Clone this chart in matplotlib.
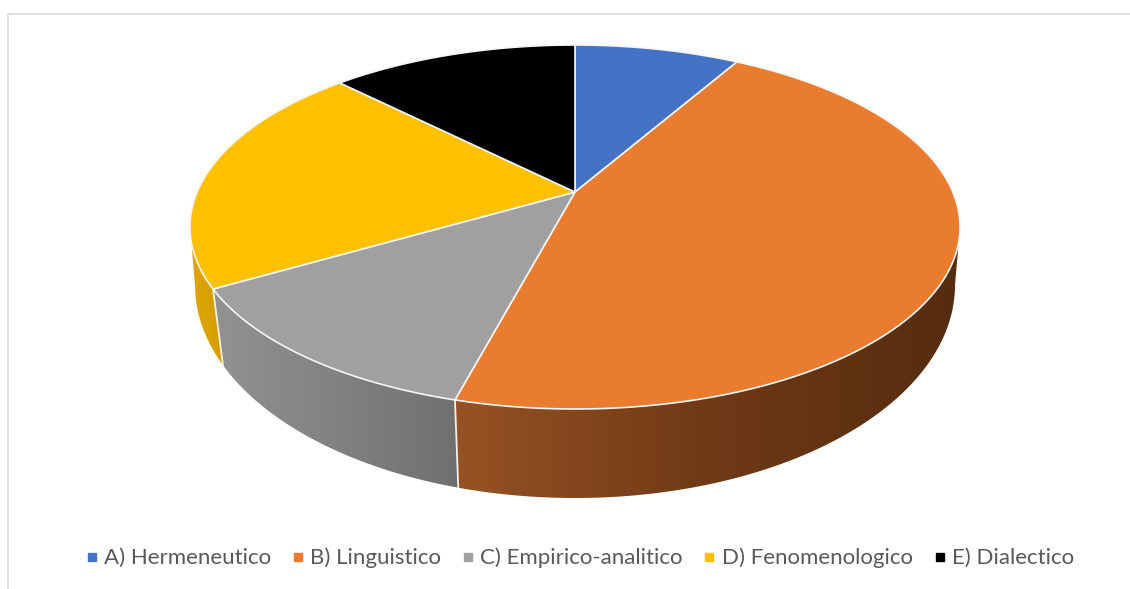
import numpy as np
import matplotlib
matplotlib.use("Agg")
import matplotlib.pyplot as plt
from matplotlib.patches import Polygon
from matplotlib.lines import Line2D

# Chart data
categories = ["A) Hermeneutico", "B) Linguistico", "C) Empirico-analitico",
              "D) Fenomenologico", "E) Dialectico"]
values = [2, 11, 3, 5, 3]
face_colors = ["#4472C4", "#EA7C30", "#A0A0A0", "#FFC000", "#000000"]

# Wall shading per slice, as (x position, rgb) stops
wall_shades = {
    1: [(459, (150, 82, 36)), (700, (112, 58, 22)), (955, (86, 44, 15))],
    2: [(215, (146, 146, 146)), (459, (112, 112, 112))],
    3: [(190, (224, 166, 4)), (222, (212, 158, 0))],
}

# Projection of the tilted disc onto the page, in pixels
TOP_CX, TOP_CY, TOP_RX, TOP_RY = 575, 227, 385, 182
BOT_CX, BOT_CY, BOT_RX, BOT_RY = 575, 285, 380, 213
TILT = 0.192
BOT_SQUEEZE = 0.985


def project(theta):
    """Map a clockwise-from-north angle to normalised ellipse coordinates."""
    u, v = np.sin(theta), np.cos(theta)
    d = 1 + TILT * v
    return u * np.sqrt(1 - TILT ** 2) / d, (v + TILT) / d


def top_edge(theta):
    x, y = project(theta)
    return TOP_CX + TOP_RX * x, TOP_CY - TOP_RY * y


def bottom_edge(theta):
    # Wall lines converge with depth, so the lower rim sits slightly inward,
    # easing back out at the extreme left and right so the outline stays smooth
    x, _ = project(theta)
    x = np.clip(x, -1, 1)
    x = x * (BOT_SQUEEZE + (1 - BOT_SQUEEZE) * np.abs(x) ** 60)
    return BOT_CX + BOT_RX * x, BOT_CY + BOT_RY * np.sqrt(np.clip(1 - x ** 2, 0, None))


fig = plt.figure(figsize=(11.30, 5.89), dpi=100, facecolor="white")
ax = fig.add_axes([0, 0, 1, 1])

# Chart frame: only the top and left edges show
ax.plot([7.5, 7.5, 1130], [589, 13.5, 13.5], color="#D9D9D9", lw=1.1, zorder=1)

fractions = np.cumsum([0] + values) / sum(values)
angles = fractions * 2 * np.pi
front_start = np.arccos(-TILT)
front_end = 2 * np.pi - front_start

# Side wall of the disc: a horizontal gradient clipped to each slice's outline
for i, stops in wall_shades.items():
    a0, a1 = max(angles[i], front_start), min(angles[i + 1], front_end)
    th = np.linspace(a0, a1, 400)
    tx, ty = top_edge(th)
    bx, by = bottom_edge(th)
    outline = list(zip(tx, ty)) + list(zip(bx[::-1], by[::-1]))
    patch = Polygon(outline, closed=True, facecolor="none", edgecolor="none", zorder=2)
    ax.add_patch(patch)
    x0, x1 = min(tx.min(), bx.min()) - 2, max(tx.max(), bx.max()) + 2
    xs = np.linspace(x0, x1, 400)
    sx = [s[0] for s in stops]
    grad = np.stack([np.interp(xs, sx, [s[1][c] for s in stops]) / 255 for c in range(3)], axis=-1)
    im = ax.imshow(grad[np.newaxis, :, :], extent=(x0, x1, 510, 200), aspect="auto",
                   interpolation="bilinear", zorder=2)
    im.set_clip_path(patch)

# Light seams between wall sections
for a in angles[2:4]:
    tx, ty = top_edge(a)
    bx, by = bottom_edge(a)
    ax.plot([tx, bx], [ty, by], color="#F6EFE6", lw=1.3, zorder=3)

# Top face wedges
hub = (TOP_CX, TOP_CY - TOP_RY * TILT)
for i, color in enumerate(face_colors):
    th = np.linspace(angles[i], angles[i + 1], 200)
    x, y = top_edge(th)
    pts = [hub] + list(zip(x, y))
    ax.add_patch(Polygon(pts, closed=True, facecolor=color, edgecolor="#F5F5F5",
                         lw=1.2, joinstyle="round", zorder=4))

ax.set_xlim(0, 1130)
ax.set_ylim(589, 0)
ax.axis("off")

# Legend along the bottom
handles = [Line2D([], [], linestyle="none", marker="s", markersize=5.6,
                  markerfacecolor=c, markeredgecolor=c) for c in face_colors]
ax.legend(handles, categories, loc="center", bbox_to_anchor=(579.5 / 1130, 1 - 558 / 589),
          ncol=5, frameon=False, handlelength=0.6, handletextpad=0.26,
          columnspacing=0.9, labelcolor="#595959",
          prop={"family": "Lato", "size": 16.0})

fig.savefig("out.png", dpi=100, facecolor="white")
